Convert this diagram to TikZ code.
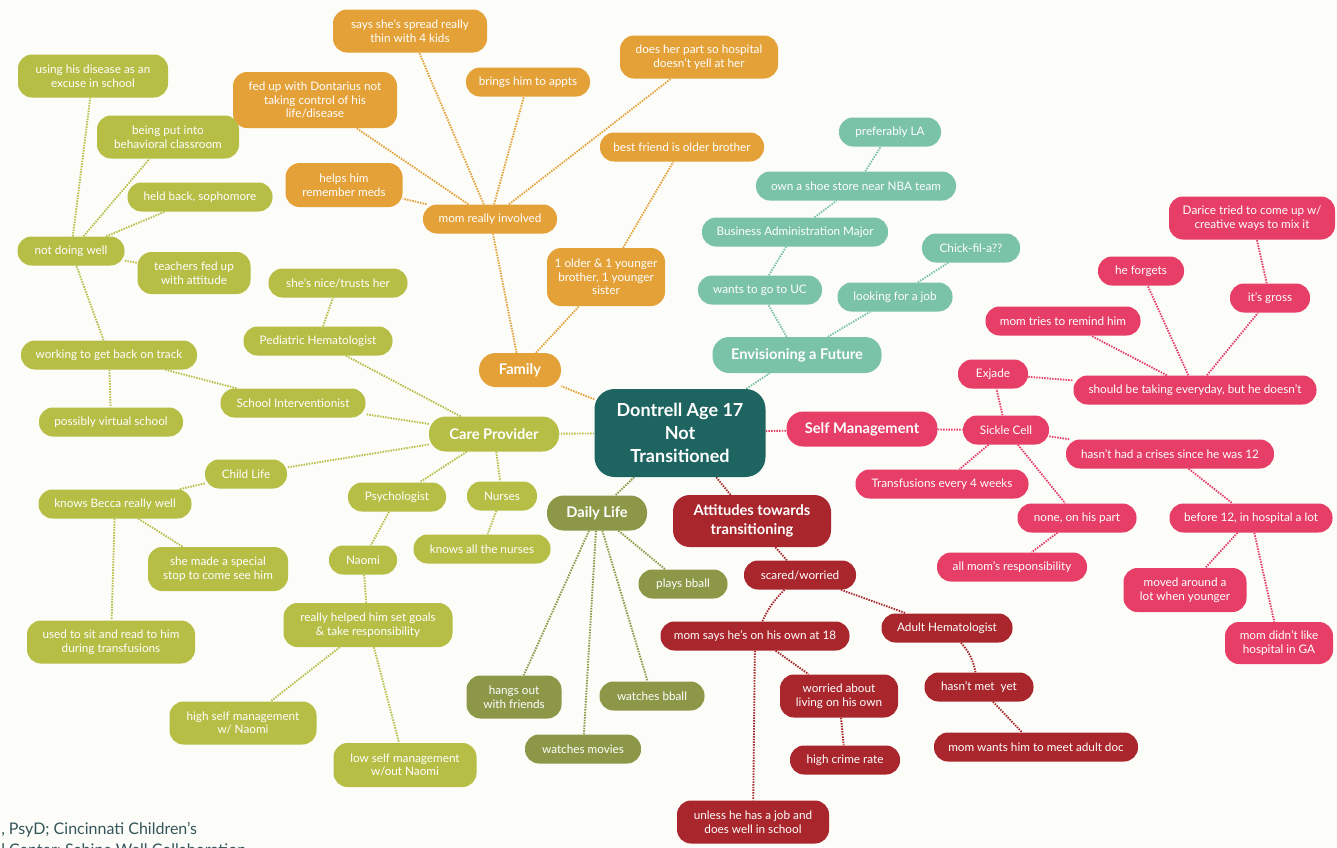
\documentclass[tikz,border=0pt]{standalone}
\usepackage{fontspec}
\setmainfont{Lato}
\usetikzlibrary{backgrounds}
\definecolor{cOr}{RGB}{228,161,56}
\definecolor{cLi}{RGB}{182,190,70}
\definecolor{cTe}{RGB}{122,194,168}
\definecolor{cPk}{RGB}{230,62,103}
\definecolor{cRd}{RGB}{168,38,44}
\definecolor{cOl}{RGB}{140,152,72}
\definecolor{cCt}{RGB}{30,100,96}
\definecolor{cBg}{RGB}{252,252,248}
\definecolor{cFt}{RGB}{52,86,90}
\begin{document}
\begin{tikzpicture}[x=0.75pt,y=-0.75pt,
 pill/.style={rounded corners=10.5pt, text=white, align=center, inner xsep=3pt, inner ysep=1pt,
   font=\fontsize{8.8}{10.2}\selectfont, minimum height=21.75pt},
 big/.style={rounded corners=12.5pt, font=\bfseries\fontsize{11}{14}\selectfont},
 bw/.style={minimum width=#1*0.75pt},
 bh/.style={minimum height=#1*0.75pt},
 fam/.style={pill, fill=cOr},
 care/.style={pill, fill=cLi},
 fut/.style={pill, fill=cTe},
 selfm/.style={pill, fill=cPk},
 att/.style={pill, fill=cRd},
 daily/.style={pill, fill=cOl},
 ln/.style={line width=1.4pt, dash pattern=on 1.1pt off 0.9pt},
 lfam/.style={ln, draw=cOr},
 lcare/.style={ln, draw=cLi},
 lfut/.style={ln, draw=cTe},
 lself/.style={ln, draw=cPk},
 latt/.style={ln, draw=cRd},
 ldaily/.style={ln, draw=cOl}
]
\useasboundingbox (0,0) rectangle (1337,847);

% centre
\node[pill, fill=cCt, rounded corners=15pt, font=\bfseries\fontsize{13.5}{17.5}\selectfont, bw=171, bh=88] (ctr) at (680,433) {Dontrell Age 17\\Not\\Transitioned};

% Family
\node[fam, big, bw=82, bh=34] (family) at (520,370) {Family};
\node[fam, bw=134] (mominv) at (490,219) {mom really involved};
\node[fam, bw=154, bh=43] (says) at (410,31) {says she's spread really\\thin with 4 kids};
\node[fam, bw=164, bh=56] (fedup) at (315,100) {fed up with Dontarius not\\taking control of his\\life/disease};
\node[fam, bw=124] (brings) at (528,82) {brings him to appts};
\node[fam, bw=158, bh=43] (does) at (699,57) {does her part so hospital\\doesn't yell at her};
\node[fam, bw=117, bh=44] (helps) at (344,185) {helps him\\remember meds};
\node[fam, bw=118, bh=58] (older) at (606,277) {1 older \& 1 younger\\brother, 1 younger\\sister};
\node[fam, bw=164] (best) at (682,147) {best friend is older brother};

% Envisioning a Future
\node[fut, big, bw=169, bh=36] (future) at (797,355) {Envisioning a Future};
\node[fut, bw=102] (la) at (890,132) {preferably LA};
\node[fut, bw=200] (shoe) at (856,186) {own a shoe store near NBA team};
\node[fut, bw=186] (bus) at (795,232) {Business Administration Major};
\node[fut, bw=124] (uc) at (760,290) {wants to go to UC};
\node[fut, bw=98] (chick) at (971,248) {Chick-fil-a??};
\node[fut, bw=115] (job) at (895,297) {looking for a job};

% Self Management
\node[selfm, big, bw=151, bh=35] (selfman) at (862,429) {Self Management};
\node[selfm, bw=166, bh=43] (darice) at (1252,218) {Darice tried to come up w/\\creative ways to mix it};
\node[selfm, bw=86] (forgets) at (1141,271) {he forgets};
\node[selfm, bw=80] (gross) at (1270,298) {it's gross};
\node[selfm, bw=155] (remind) at (1063,321) {mom tries to remind him};
\node[selfm, bw=243] (should) at (1195,390) {should be taking everyday, but he doesn't};
\node[selfm, bw=70] (exjade) at (993,374) {Exjade};
\node[selfm, bw=86] (sickle) at (1006,430) {Sickle Cell};
\node[selfm, bw=208] (crises) at (1170,454) {hasn't had a crises since he was 12};
\node[selfm, bw=173] (transf) at (942,484) {Transfusions every 4 weeks};
\node[selfm, bw=119] (none) at (1077,518) {none, on his part};
\node[selfm, bw=163] (before) at (1251,518) {before 12, in hospital a lot};
\node[selfm, bw=150] (allmom) at (1012,567) {all mom's responsibility};
\node[selfm, bw=123, bh=44] (moved) at (1185,590) {moved around a\\lot when younger};
\node[selfm, bw=108, bh=42] (ga) at (1279,643) {mom didn't like\\hospital in GA};

% Attitudes towards transitioning
\node[att, big, bw=158, bh=52] (attitude) at (752,521) {Attitudes towards\\transitioning};
\node[att, bw=112] (scared) at (800,575) {scared/worried};
\node[att, bw=189] (momsays) at (755,636) {mom says he's on his own at 18};
\node[att, bw=131] (adult) at (947,628) {Adult Hematologist};
\node[att, bw=118, bh=43] (worried) at (839,696) {worried about\\living on his own};
\node[att, bw=109] (metyet) at (979,687) {hasn't met\ \ yet};
\node[att, bw=110] (crime) at (845,760) {high crime rate};
\node[att, bw=204] (wants) at (1036,747) {mom wants him to meet adult doc};
\node[att, bw=152, bh=43] (unless) at (753,822) {unless he has a job and\\does well in school};

% Daily Life
\node[daily, big, bw=100, bh=35] (dailylife) at (597,513) {Daily Life};
\node[daily, bw=89] (plays) at (683,584) {plays bball};
\node[daily, bw=95, bh=43] (hangs) at (514,697) {hangs out\\with friends};
\node[daily, bw=105] (wbball) at (652,696) {watches bball};
\node[daily, bw=116] (movies) at (583,749) {watches movies};

% Care Provider
\node[care, big, bw=130, bh=35] (carep) at (494,434) {Care Provider};
\node[care, bw=150, bh=43] (using) at (93,76) {using his disease as an\\excuse in school};
\node[care, bw=142, bh=43] (being) at (168,137) {being put into\\behavioral classroom};
\node[care, bw=145] (held) at (200,197) {held back, sophomore};
\node[care, bw=107] (notwell) at (71,251) {not doing well};
\node[care, bw=113, bh=42] (teachers) at (194,273) {teachers fed up\\with attitude};
\node[care, bw=139] (nice) at (338,283) {she's nice/trusts her};
\node[care, bw=149] (pedhem) at (318,341) {Pediatric Hematologist};
\node[care, bw=176] (working) at (109,355) {working to get back on track};
\node[care, bw=145] (school) at (293,403) {School Interventionist};
\node[care, bw=144] (virtual) at (111,422) {possibly virtual school};
\node[care, bw=82] (childlife) at (246,474) {Child Life};
\node[care, bw=153] (becca) at (115,504) {knows Becca really well};
\node[care, bw=98] (psych) at (397,497) {Psychologist};
\node[care, bw=70] (nurses) at (502,496) {Nurses};
\node[care, bw=137] (allnurses) at (482,549) {knows all the nurses};
\node[care, bw=140, bh=44] (special) at (218,569) {she made a special\\stop to come see him};
\node[care, bw=68] (naomi) at (363,560) {Naomi};
\node[care, bw=169, bh=44] (helped) at (368,625) {really helped him set goals\\\& take responsibility};
\node[care, bw=168, bh=43] (used) at (111,642) {used to sit and read to him\\during transfusions};
\node[care, bw=147, bh=43] (high) at (243,723) {high self management\\w/ Naomi};
\node[care, bw=143, bh=44] (low) at (405,765) {low self management\\w/out Naomi};

% footnote
\node[anchor=base west, inner sep=0pt, text=cFt, font=\fontsize{12}{14}\selectfont] (foot1) at (1,834) {, PsyD; Cincinnati Children's};
\node[anchor=base west, inner sep=0pt, text=cFt, font=\fontsize{12}{14}\selectfont] (foot2) at (1,855) {l Center; Sabine Well Collaboration};

\begin{scope}[on background layer]
\fill[cBg] (0,0) rectangle (1337,847);
% family
\draw[lfam] (ctr) -- (family);
\draw[lfam] (family) -- (mominv);
\draw[lfam] (family) -- (older);
\draw[lfam] (older) -- (best);
\draw[lfam] (mominv) -- (says);
\draw[lfam] (mominv) -- (fedup);
\draw[lfam] (mominv) -- (brings);
\draw[lfam] (mominv) -- (does);
\draw[lfam] (mominv) -- (helps);
% future
\draw[lfut] (ctr) -- (future);
\draw[lfut] (future) -- (uc);
\draw[lfut] (future) -- (job);
\draw[lfut] (uc) -- (bus);
\draw[lfut] (bus) -- (shoe);
\draw[lfut] (shoe) -- (la);
\draw[lfut] (job) -- (chick);
% self management
\draw[lself] (ctr) -- (selfman);
\draw[lself] (selfman) -- (sickle);
\draw[lself] (sickle) -- (exjade);
\draw[lself] (exjade) -- (should);
\draw[lself] (should) -- (remind);
\draw[lself] (should) -- (forgets);
\draw[lself] (should) -- (gross);
\draw[lself] (gross) -- (darice);
\draw[lself] (sickle) -- (crises);
\draw[lself] (sickle) -- (transf);
\draw[lself] (sickle) -- (none);
\draw[lself] (none) -- (allmom);
\draw[lself] (crises) -- (before);
\draw[lself] (before) -- (moved);
\draw[lself] (before) -- (ga);
% attitudes
\draw[latt] (ctr) -- (attitude);
\draw[latt] (attitude) -- (scared);
\draw[latt] (scared) to[bend right=10] (momsays);
\draw[latt] (scared) -- (adult);
\draw[latt] (momsays) -- (worried);
\draw[latt] (worried) -- (crime);
\draw[latt] (momsays) -- (unless);
\draw[latt] (adult) to[bend left=15] (metyet);
\draw[latt] (metyet) -- (wants);
% daily life
\draw[ldaily] (ctr) -- (dailylife);
\draw[ldaily] (dailylife) -- (plays);
\draw[ldaily] (dailylife) -- (hangs);
\draw[ldaily] (dailylife) -- (wbball);
\draw[ldaily] (dailylife) -- (movies);
% care provider
\draw[lcare] (ctr) -- (carep);
\draw[lcare] (carep) -- (pedhem);
\draw[lcare] (pedhem) -- (nice);
\draw[lcare] (carep) -- (school);
\draw[lcare] (school) -- (working);
\draw[lcare] (working) -- (notwell);
\draw[lcare] (working) -- (virtual);
\draw[lcare] (notwell) -- (using);
\draw[lcare] (notwell) -- (being);
\draw[lcare] (notwell) -- (held);
\draw[lcare] (notwell) -- (teachers);
\draw[lcare] (carep) -- (childlife);
\draw[lcare] (childlife) -- (becca);
\draw[lcare] (becca) -- (special);
\draw[lcare] (becca) -- (used);
\draw[lcare] (carep) -- (psych);
\draw[lcare] (psych) -- (naomi);
\draw[lcare] (naomi) -- (helped);
\draw[lcare] (helped) -- (high);
\draw[lcare] (helped) -- (low);
\draw[lcare] (carep) -- (nurses);
\draw[lcare] (nurses) -- (allnurses);
\end{scope}
\end{tikzpicture}
\end{document}
